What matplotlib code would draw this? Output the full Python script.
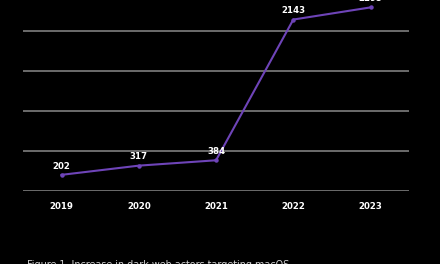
import matplotlib.pyplot as plt

years = ['2019', '2020', '2021', '2022', '2023']
actors = [202, 317, 384, 2143, 2295]
grid_vals = [0, 500, 1000, 1500, 2000]

fig = plt.figure(figsize=(4.4, 2.64), dpi=100, facecolor='black')
ax = fig.add_axes([0.052, 0.2765, 0.878, 0.697])
ax.set_facecolor('black')

x = range(len(years))
ax.plot(x, actors, color='#6e44b8', linewidth=1.5, marker='o', markersize=2.2,
        zorder=3, clip_on=False)
for i, v in zip(x, actors):
    ax.annotate(str(v), (i, v), xytext=(0, 3), textcoords='offset points',
                ha='center', va='bottom', color='white', fontsize=6.2,
                fontweight='bold', annotation_clip=False)

for g in grid_vals:
    ax.axhline(g, color='#8a8a8a', linewidth=1.1, zorder=1)

ax.set_xlim(-0.5, 4.5)
ax.set_ylim(0, 2300)
ax.set_xticks(list(x))
ax.set_xticklabels(years, color='white', fontsize=6.2, fontweight='bold')
ax.set_yticks([])
ax.tick_params(axis='x', length=0, pad=8)
for s in ax.spines.values():
    s.set_visible(False)

fig.text(0.062, -0.004, 'Figure 1. Increase in dark web actors targeting macOS',
         color='#d0d0d0', fontsize=6.9, va='center', ha='left')

fig.savefig('out.png', dpi=100, facecolor='black')
